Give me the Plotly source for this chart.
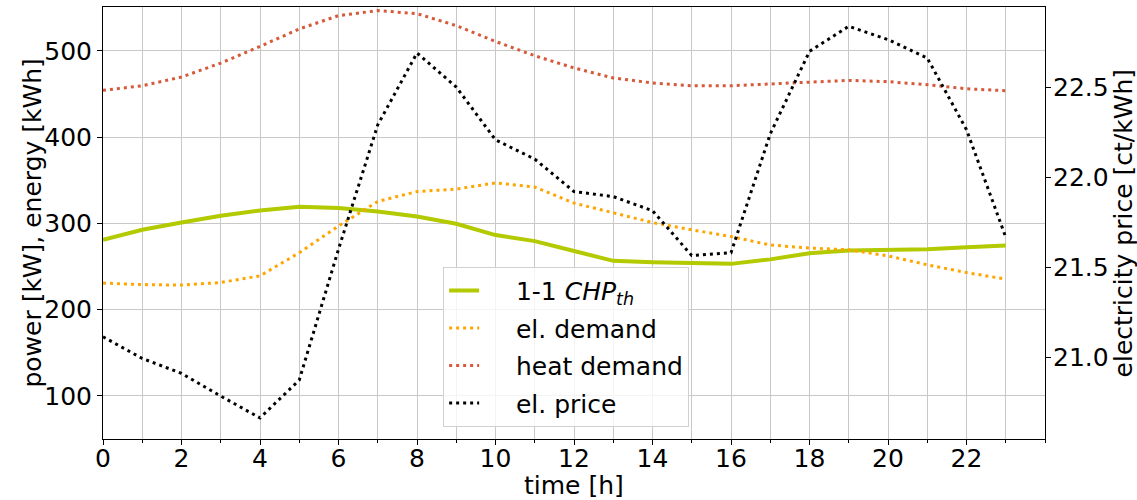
import plotly.graph_objects as go

hours = list(range(24))
chp_th = [281, 292.6, 301, 308.9, 315, 319.3, 317.8, 313.9, 308, 299.6, 286.5, 279.5,
          268, 256.6, 255, 254.6, 253.1, 258.3, 265.5, 268.7, 269.5, 270, 272.5, 274.4]
el_demand = [230.8, 229.1, 228.5, 231.5, 239.2, 266, 297, 325.5, 337, 339.8, 347, 342.2,
             323.6, 312.7, 301, 292.6, 284.8, 275, 271.4, 269.4, 262.4, 252, 243, 235.4]
heat_demand = [454.3, 459.7, 469.8, 486, 505.3, 525.5, 541, 546.8, 543.3, 529.4, 511, 494.5,
               480.3, 468.7, 462.9, 459.7, 459.7, 462, 464, 465.9, 464.4, 460.9, 456.2, 453.9]
el_price = [21.114, 20.994, 20.911, 20.785, 20.664, 20.874, 21.6, 22.29, 22.689, 22.5, 22.207, 22.1,
            21.92, 21.892, 21.814, 21.565, 21.58, 22.24, 22.698, 22.837, 22.763, 22.661, 22.263, 21.667]

x_tick_vals = list(range(0, 24, 2))
y_tick_vals = [100, 200, 300, 400, 500]
y2_tick_vals = [21.0, 21.5, 22.0, 22.5]

FONT = "DejaVu Sans"
FS = 25
DOT = "3px,4px"
PAD = "\u00a0" * 4

W, H = 1137, 500
ML, MR, MT, MB = 102.5, 91.5, 7.3, 60.7
PW, PH = W - ML - MR, H - MT - MB


def px_x(px):
    return (px - ML) / PW


def px_y(py):
    return (H - MB - py) / PH


fig = go.Figure()
fig.add_trace(go.Scatter(x=hours, y=chp_th, mode="lines", name=PAD + "1-1 <i>CHP</i><sub><i>th</i></sub>",
                         line=dict(color="#b3c900", width=4), legendgroup="a"))
fig.add_trace(go.Scatter(x=hours, y=el_demand, mode="lines", name=PAD + "el. demand",
                         line=dict(color="#ffa500", width=3, dash=DOT), legendgroup="b"))
fig.add_trace(go.Scatter(x=hours, y=heat_demand, mode="lines", name=PAD + "heat demand",
                         line=dict(color="#d6593a", width=3, dash=DOT), legendgroup="c"))
fig.add_trace(go.Scatter(x=hours, y=el_price, mode="lines", name=PAD + "el. price", yaxis="y2",
                         line=dict(color="#000000", width=3, dash=DOT), legendgroup="d"))

fig.update_layout(
    width=W, height=H,
    margin=dict(l=ML, r=MR, t=MT, b=MB, autoexpand=False),
    paper_bgcolor="white", plot_bgcolor="white",
    font=dict(family=FONT, size=FS, color="black"),
    showlegend=True,
    legend=dict(x=px_x(443), y=px_y(267), xanchor="left", yanchor="top",
                bgcolor="rgba(255,255,255,0.8)", bordercolor="#d0d0d0", borderwidth=1,
                font=dict(family=FONT, size=FS), tracegroupgap=2),
    xaxis=dict(range=[0, 24], tickvals=x_tick_vals, ticktext=[str(v) for v in x_tick_vals],
               ticks="outside", ticklen=5, tickcolor="black", automargin=False,
               ticklabelstandoff=-8,
               showgrid=True, gridcolor="#c8c8c8", gridwidth=1,
               minor=dict(dtick=1, tick0=0, ticks="outside", ticklen=3, tickcolor="black",
                          showgrid=True, gridcolor="#c8c8c8", gridwidth=1),
               showline=True, linecolor="black", linewidth=1, mirror=True,
               zeroline=False),
    yaxis=dict(range=[50, 551], tickvals=y_tick_vals, ticks="outside", ticklen=5, tickcolor="black",
               automargin=False,
               showgrid=True, gridcolor="#c8c8c8", gridwidth=1,
               showline=True, linecolor="black", linewidth=1, zeroline=False),
    yaxis2=dict(range=[20.547, 22.944], tickvals=y2_tick_vals, tickformat=".1f",
                overlaying="y", side="right", ticks="outside", ticklen=5, tickcolor="black",
                automargin=False, ticklabelstandoff=-3,
                showgrid=False, showline=True, linecolor="black", linewidth=1, zeroline=False),
    annotations=[
        dict(text="time [h]", xref="paper", yref="paper", x=0.5, y=px_y(486),
             xanchor="center", yanchor="middle", showarrow=False, font=dict(size=FS)),
        dict(text="power [kW], energy [kWh]", xref="paper", yref="paper",
             x=px_x(31), y=0.5, xanchor="center", yanchor="middle", textangle=-90,
             showarrow=False, font=dict(size=FS)),
        dict(text="electricity price [ct/kWh]", xref="paper", yref="paper",
             x=px_x(1124), y=0.5, xanchor="center", yanchor="middle", textangle=-90,
             showarrow=False, font=dict(size=FS)),
    ],
)

fig.write_html("out.html", config={"displayModeBar": False},
               post_script="document.body.style.margin='0';document.body.style.padding='0';")
